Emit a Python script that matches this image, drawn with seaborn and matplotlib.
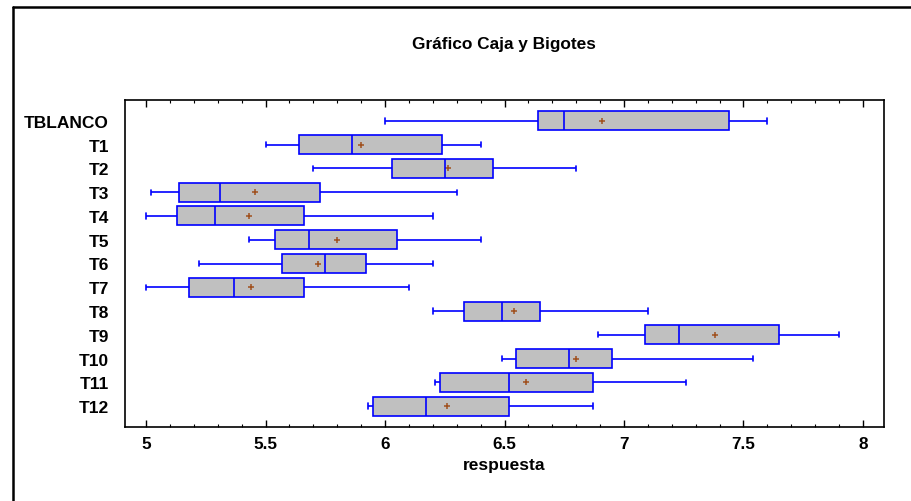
import numpy as np
import pandas as pd
import seaborn as sns
import matplotlib
matplotlib.use("Agg")
import matplotlib.pyplot as plt
from matplotlib.lines import Line2D
from matplotlib.ticker import MultipleLocator

# Tratamientos y resumen de cinco números de la respuesta
grupos = ["TBLANCO", "T1", "T2", "T3", "T4", "T5", "T6",
          "T7", "T8", "T9", "T10", "T11", "T12"]
minimo  = [6.00, 5.50, 5.70, 5.02, 5.00, 5.43, 5.22, 5.00, 6.20, 6.89, 6.49, 6.21, 5.93]
q1      = [6.64, 5.64, 6.03, 5.14, 5.13, 5.54, 5.57, 5.18, 6.33, 7.09, 6.55, 6.23, 5.95]
mediana = [6.75, 5.86, 6.25, 5.31, 5.29, 5.68, 5.75, 5.37, 6.49, 7.23, 6.77, 6.52, 6.17]
q3      = [7.44, 6.24, 6.45, 5.73, 5.66, 6.05, 5.92, 5.66, 6.65, 7.65, 6.95, 6.87, 6.52]
maximo  = [7.60, 6.40, 6.80, 6.30, 6.20, 6.40, 6.20, 6.10, 7.10, 7.90, 7.54, 7.26, 6.87]
media   = [6.91, 5.90, 6.265, 5.455, 5.43, 5.80, 5.72, 5.44, 6.54, 7.38, 6.80, 6.59, 6.26]

filas = []
for g, a, b, c, d, e in zip(grupos, minimo, q1, mediana, q3, maximo):
    for v in (a, b, c, d, e):
        filas.append({"grupo": g, "respuesta": v})
df = pd.DataFrame(filas)
df_media = pd.DataFrame({"grupo": grupos, "respuesta": media})

sns.set_theme(style="white")
plt.rcParams["font.family"] = ["Liberation Sans", "DejaVu Sans"]
plt.rcParams["font.weight"] = "bold"

fig = plt.figure(figsize=(9.12, 5.02), dpi=100)
ax = fig.add_axes([125 / 912, 1 - 428 / 502, (884 - 125) / 912, (428 - 101) / 502])

azul = "#0000FF"
sns.boxplot(data=df, x="respuesta", y="grupo", order=grupos, orient="h",
            whis=(0, 100), width=0.8, color="#C0C0C0", saturation=1,
            linecolor=azul, linewidth=1.2, showfliers=False, ax=ax,
            capwidths=0.22)

sns.pointplot(data=df_media, x="respuesta", y="grupo", order=grupos,
              orient="h", linestyle="none", marker="+", markersize=4.2,
              markeredgewidth=1.1, color="#A0501E", errorbar=None, ax=ax)

ax.set_xlim(4.912, 8.088)
ax.set_ylim(12.884, -0.884)

ax.xaxis.set_minor_locator(MultipleLocator(0.1))
ax.set_xticks([5, 5.5, 6, 6.5, 7, 7.5, 8])
ax.set_xticklabels(["5", "5.5", "6", "6.5", "7", "7.5", "8"])
ax.tick_params(axis="x", which="major", direction="in", length=5, width=1,
               top=True, bottom=True, labelsize=12.3, pad=6.5, color="black")
ax.tick_params(axis="x", which="minor", direction="in", length=2.5, width=0.8,
               top=True, bottom=True, color="black")
ax.tick_params(axis="y", length=0, labelsize=12.5, pad=11.5)
for lbl in ax.get_xticklabels() + ax.get_yticklabels():
    lbl.set_fontweight("bold")
    lbl.set_color("black")

ax.set_xlabel("respuesta", fontsize=12.5, fontweight="bold", labelpad=4, color="black")
ax.set_ylabel("")
for s in ax.spines.values():
    s.set_color("black")
    s.set_linewidth(1.2)
    s.set_visible(True)

fig.text(504 / 912, 1 - 45 / 502, "Gráfico Caja y Bigotes", ha="center", va="center",
         fontsize=12.4, fontweight="bold", color="black")

# Marco exterior de la figura
fig.add_artist(Line2D([13 / 912, 13 / 912], [1 - 8 / 502, 0], color="black",
                      linewidth=1.8, transform=fig.transFigure))
fig.add_artist(Line2D([13 / 912, 1], [1 - 8 / 502, 1 - 8 / 502], color="black",
                      linewidth=1.8, transform=fig.transFigure))

fig.savefig("out.png", dpi=100)
